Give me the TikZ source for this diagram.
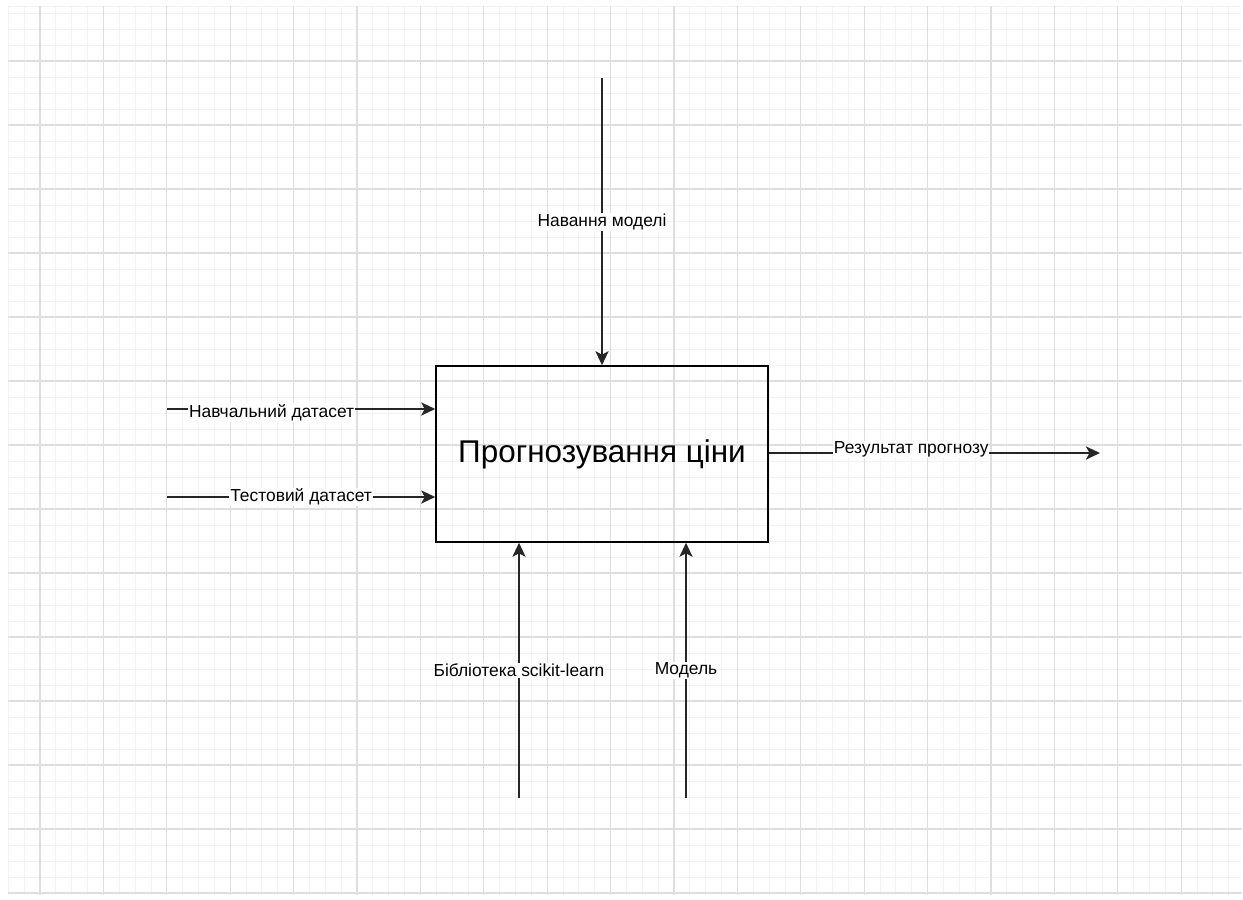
\documentclass[tikz,border=0pt]{standalone}
\usepackage{fontspec}
\setmainfont{Liberation Sans}
\usetikzlibrary{arrows.meta}
\begin{document}
\begin{tikzpicture}[x=0.02cm,y=-0.02cm]
				\tikzstyle{grid minor}=[draw=black!5,line width=0.5pt]
				\tikzstyle{grid major}=[draw=black!13,line width=0.6pt]
				\tikzstyle{proc node}=[draw,line width=0.9pt,minimum width=6.64cm,minimum height=3.52cm,inner sep=0,font=\fontsize{17.9}{21}\selectfont]
				\tikzstyle{flow}=[draw=black!85,line width=0.85pt,-{Stealth[length=8pt,width=7.5pt,inset=2pt]}]
				\tikzstyle{lab}=[fill=white,inner sep=0.5pt,font=\fontsize{9.9}{12}\selectfont]
				\useasboundingbox (0,0) rectangle (1243,899);
				% background grid
				\foreach \i in {0,...,77} \draw[grid minor](8.3+15.85*\i,6)--(8.3+15.85*\i,895);
				\foreach \j in {-3,...,52} \draw[grid minor](8,61+16*\j)--(1242,61+16*\j);
				\draw[grid minor](8,6)--(1242,6);
				\foreach \i in {0,...,18} \draw[grid major](40+63.4*\i,6)--(40+63.4*\i,895);
				\foreach \j in {0,...,13} \draw[grid major](8,61+64*\j)--(1242,61+64*\j);
				% activity
				\node(proc)[proc node] at (602,454){Прогнозування ціни};
				\coordinate(ctrl) at (602,78);
				\coordinate(in1) at (167,409);
				\coordinate(in2) at (167,497);
				\coordinate(out) at (1100,453);
				\coordinate(mech1) at (519,798);
				\coordinate(mech2) at (686,798);
				\draw[flow](ctrl)--node[lab]{Навання моделі}(proc.north);
				\draw[flow](in1)--node[lab,pos=0.39,yshift=-2pt]{Навчальний датасет}(proc.west|-in1);
				\draw[flow](in2)--node[lab]{Тестовий датасет}(proc.west|-in2);
				\draw[flow](proc.east|-out)--node[lab,pos=0.43,yshift=2pt]{Результат прогнозу}(out);
				\draw[flow](mech1)--node[lab]{Бібліотека scikit-learn}(proc.south-|mech1);
				\draw[flow](mech2)--node[lab]{Модель}(proc.south-|mech2);
			\end{tikzpicture}
\end{document}
